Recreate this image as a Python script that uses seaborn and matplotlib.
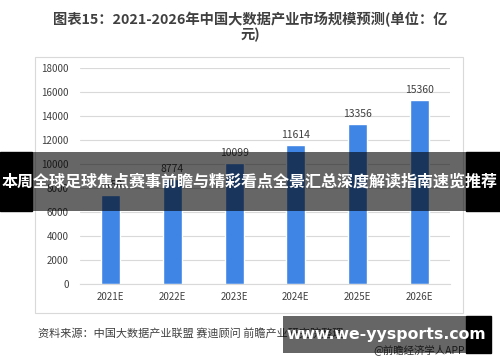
import numpy as np
import pandas as pd
import seaborn as sns
import matplotlib.pyplot as plt
from matplotlib.patches import Rectangle

years = ['2021E', '2022E', '2023E', '2024E', '2025E', '2026E']
values = [7450, 8774, 10099, 11614, 13356, 15360]
yticks = [0, 2000, 4000, 6000, 8000, 10000, 12000, 14000, 16000, 18000]

title = '图表15：2021-2026年中国大数据产业市场规模预测(单位：亿\n元)'
source = '资料来源：中国大数据产业联盟 赛迪顾问 前瞻产业研究院整理'
credit = '@前瞻经济学人APP'
banner = '本周全球足球焦点赛事前瞻与精彩看点全景汇总深度解读指南速览推荐'
site = 'www.we-yysports.com'

df = pd.DataFrame({'year': years, 'value': values})

sns.set_style('white')
plt.rcParams['font.family'] = ['Noto Sans CJK SC', 'DejaVu Sans']

fig = plt.figure(figsize=(5, 3.62), dpi=100)
ax = fig.add_axes([80 / 500, 1 - 284 / 362, 370 / 500, 216 / 362])

sns.barplot(data=df, x='year', y='value', color='#3f85e6', saturation=1, width=0.31, ax=ax)
ax.set_ylim(0, 18000)
ax.set_yticks(yticks)
ax.set_yticklabels([str(t) for t in yticks])
ax.set_xlabel('')
ax.set_ylabel('')
ax.grid(axis='y', color='#d9d9d9', linewidth=0.8)
ax.set_axisbelow(True)
for s in ['top', 'right', 'left']:
    ax.spines[s].set_visible(False)
ax.spines['bottom'].set_color('#d9d9d9')
ax.tick_params(axis='both', length=0, labelsize=7, colors='#404040')
ax.tick_params(axis='y', pad=8)
ax.tick_params(axis='x', pad=6)

for i, v in enumerate(values):
    ax.text(i, v + 400, str(v), ha='center', va='bottom', fontsize=7.5, color='#404040')

# chart frame
fig.add_artist(Rectangle((35 / 500, 1 - 313 / 362), 428 / 500, 256 / 362,
                         transform=fig.transFigure, fill=False, edgecolor='#d9d9d9', linewidth=0.8))

fig.text(0.5, 1 - 27 / 362, title, ha='center', va='center', fontsize=10.3,
         fontweight='bold', color='#404040', linespacing=1.0)
fig.text(38 / 500, 1 - 333 / 362, source, ha='left', va='center', fontsize=8, color='#404040')
fig.text(465 / 500, 1 - 350 / 362, credit, ha='right', va='center', fontsize=7.5, color='#404040')

# overlay banner
fig.add_artist(Rectangle((0, 1 - 211 / 362), 32 / 500, 59 / 362, transform=fig.transFigure,
                         color='black', zorder=20))
fig.add_artist(Rectangle((466 / 500, 1 - 211 / 362), 34 / 500, 59 / 362, transform=fig.transFigure,
                         color='black', zorder=20))
fig.add_artist(Rectangle((32 / 500, 1 - 211 / 362), 434 / 500, 59 / 362, transform=fig.transFigure,
                         color='black', alpha=0.6, zorder=20, linewidth=0))
fig.text(0.5, 1 - 182 / 362, banner, ha='center', va='center', fontsize=11.5,
         fontweight='bold', color='white', zorder=21)

# site box
fig.add_artist(Rectangle((466 / 500, 1 - 353 / 362), 25 / 500, 37 / 362, transform=fig.transFigure,
                         color='black', zorder=20))
fig.add_artist(Rectangle((283 / 500, 1 - 353 / 362), 183 / 500, 37 / 362, transform=fig.transFigure,
                         color='black', alpha=0.6, zorder=20, linewidth=0))
fig.text(386 / 500, 1 - 335 / 362, site, ha='center', va='center', fontsize=11.3,
         fontweight='bold', color='white', family=['DejaVu Sans'], zorder=21)

fig.savefig('out.png', dpi=100)
